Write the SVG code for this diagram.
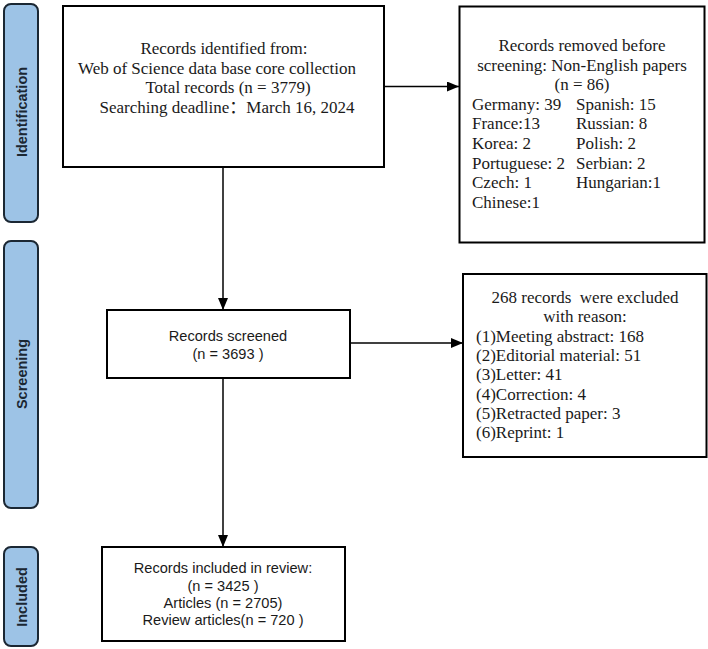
<svg xmlns="http://www.w3.org/2000/svg" width="708" height="649" viewBox="0 0 708 649">
<style>
.bar{fill:#9DC3E6;stroke:#1b2733;stroke-width:2}
.bl{font-family:"Liberation Sans",Arial,sans-serif;font-weight:bold;font-size:14.5px;fill:#1b2733;text-anchor:middle}
.box{fill:#fff;stroke:#000;stroke-width:2}
.serif{font-family:"Liberation Serif","Times New Roman","Noto Sans CJK SC",serif;font-size:17px;fill:#1a1a1a}
.sans{font-family:"Liberation Sans",Arial,sans-serif;font-size:14.6px;fill:#1a1a1a}
.c{text-anchor:middle}
.conn{stroke:#000;stroke-width:1.5;fill:none}
</style>
<defs>
<marker id="ah" markerUnits="userSpaceOnUse" markerWidth="12" markerHeight="10" refX="12" refY="5" orient="auto">
<path d="M0,0 L12,5 L0,10 Z" fill="#000"/>
</marker>
</defs>
<rect width="708" height="649" fill="#fff"/>
<g id="phase-identification">
<rect class="bar" x="4" y="4" width="34" height="218" rx="7"/>
<text class="bl" transform="translate(27,112) rotate(-90)">Identification</text>
</g>
<g id="phase-screening">
<rect class="bar" x="4" y="241" width="34" height="267" rx="7"/>
<text class="bl" transform="translate(27,374) rotate(-90)">Screening</text>
</g>
<g id="phase-included">
<rect class="bar" x="4" y="547" width="34" height="99" rx="7"/>
<text class="bl" transform="translate(27,597) rotate(-90)">Included</text>
</g>
<g id="connectors">
<line class="conn" x1="384" y1="86.5" x2="459" y2="86.5" marker-end="url(#ah)"/>
<line class="conn" x1="223" y1="167" x2="223" y2="310" marker-end="url(#ah)"/>
<line class="conn" x1="350" y1="343" x2="463" y2="343" marker-end="url(#ah)"/>
<line class="conn" x1="223" y1="378" x2="223" y2="547" marker-end="url(#ah)"/>
</g>
<g id="records-identified">
<rect class="box" x="63" y="6" width="321" height="161"/>
<text class="serif c" x="224" y="54">Records identified from:</text>
<text class="serif c" x="217" y="74">Web of Science data base core collection</text>
<text class="serif c" x="228" y="93">Total records (n = 3779)</text>
<text class="serif c" x="227" y="113">Searching deadline：March 16, 2024</text>
</g>
<g id="records-removed">
<rect class="box" x="459.5" y="6.5" width="245" height="236"/>
<text class="serif c" x="582" y="51">Records removed before</text>
<text class="serif c" x="582" y="70.6">screening: Non-English papers</text>
<text class="serif c" x="582" y="90.2">(n = 86)</text>
<text class="serif" x="472" y="109.8">Germany: 39</text>
<text class="serif" x="576" y="109.8">Spanish: 15</text>
<text class="serif" x="472" y="129.4">France:13</text>
<text class="serif" x="576" y="129.4">Russian: 8</text>
<text class="serif" x="472" y="149">Korea: 2</text>
<text class="serif" x="576" y="149">Polish: 2</text>
<text class="serif" x="472" y="168.6">Portuguese: 2</text>
<text class="serif" x="576" y="168.6">Serbian: 2</text>
<text class="serif" x="472" y="188.2">Czech: 1</text>
<text class="serif" x="576" y="188.2">Hungarian:1</text>
<text class="serif" x="472" y="207.8">Chinese:1</text>
</g>
<g id="records-screened">
<rect class="box" x="107" y="310" width="243" height="68"/>
<text class="sans c" x="228" y="341">Records screened</text>
<text class="sans c" x="228" y="359">(n = 3693 )</text>
</g>
<g id="records-excluded">
<rect class="box" x="463" y="274" width="243.5" height="183"/>
<text class="serif c" x="585" y="303" xml:space="preserve">268 records  were excluded</text>
<text class="serif c" x="585" y="322">with reason:</text>
<text class="serif" x="476" y="342">(1)Meeting abstract: 168</text>
<text class="serif" x="476" y="361">(2)Editorial material: 51</text>
<text class="serif" x="476" y="380">(3)Letter: 41</text>
<text class="serif" x="476" y="399.5">(4)Correction: 4</text>
<text class="serif" x="476" y="419">(5)Retracted paper: 3</text>
<text class="serif" x="476" y="438">(6)Reprint: 1</text>
</g>
<g id="records-included">
<rect class="box" x="102" y="547" width="243" height="94"/>
<text class="sans c" x="223" y="573">Records included in review:</text>
<text class="sans c" x="223" y="590.5">(n = 3425 )</text>
<text class="sans c" x="223" y="607.5">Articles (n = 2705)</text>
<text class="sans c" x="223" y="624.5">Review articles(n = 720 )</text>
</g>
</svg>
